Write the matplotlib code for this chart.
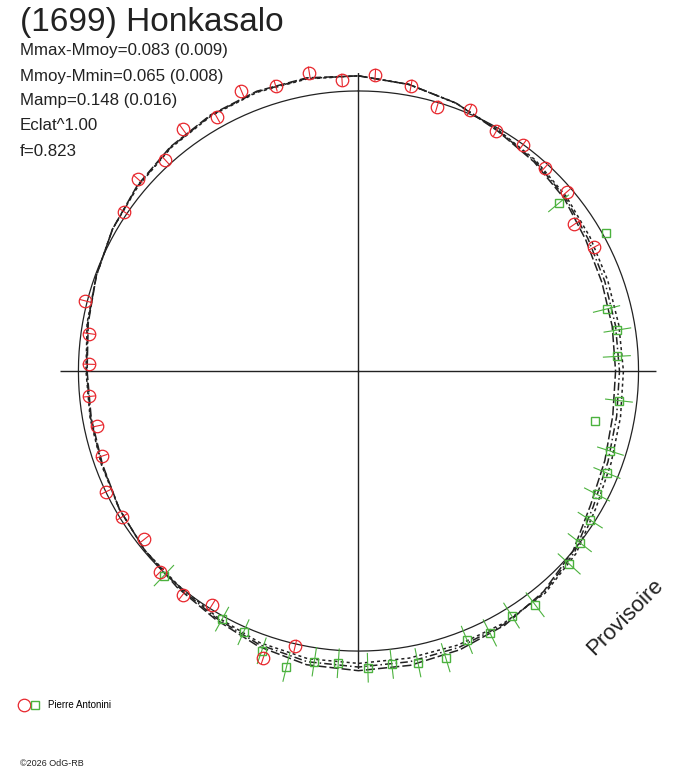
import numpy as np
import matplotlib
matplotlib.use('Agg')
import matplotlib.pyplot as plt
from matplotlib.lines import Line2D
from matplotlib.legend_handler import HandlerTuple

plt.rcParams['font.family'] = ['Liberation Sans', 'DejaVu Sans']

# polar light curve: angle = rotational phase, radius = relative flux (mean circle = 1)
title = "(1699) Honkasalo"
info_lines = ["Mmax-Mmoy=0.083 (0.009)", "Mmoy-Mmin=0.065 (0.008)",
              "Mamp=0.148 (0.016)", "Eclat^1.00", "f=0.823"]
observer = "Pierre Antonini"

# fitted curves sampled every 10 deg of phase
fit_phase = np.arange(0, 360, 10) / 360.0
fit_a = [1.054, 1.039, 1.018, 0.991, 0.975, 0.959, 0.937, 0.925, 0.920, 0.918,
         0.922, 0.936, 0.957, 1.000, 1.028, 1.047, 1.059, 1.067, 1.070, 1.065,
         1.046, 1.023, 1.008, 0.996, 0.986, 0.973, 0.969, 0.969, 0.980, 0.996,
         1.014, 1.031, 1.045, 1.056, 1.063, 1.063]
fit_b = [1.054, 1.039, 1.018, 0.993, 0.979, 0.964, 0.946, 0.936, 0.932, 0.932,
         0.936, 0.948, 0.968, 1.007, 1.032, 1.043, 1.050, 1.054, 1.057, 1.054,
         1.039, 1.018, 1.004, 0.996, 0.986, 0.975, 0.971, 0.971, 0.982, 0.996,
         1.014, 1.029, 1.043, 1.054, 1.061, 1.061]
fit_c = [1.054, 1.039, 1.018, 0.995, 0.983, 0.969, 0.955, 0.947, 0.944, 0.946,
         0.950, 0.960, 0.979, 1.014, 1.036, 1.039, 1.041, 1.041, 1.044, 1.043,
         1.032, 1.013, 1.000, 0.996, 0.986, 0.977, 0.973, 0.973, 0.984, 0.996,
         1.014, 1.027, 1.041, 1.052, 1.059, 1.059]

# session 1 (red circles)
red_phase = [0.974, 0.991, 0.009, 0.937, 0.955, 0.919, 0.900, 0.882, 0.864, 0.845,
             0.029, 0.046, 0.064, 0.083, 0.100, 0.118, 0.137, 0.155, 0.173,
             0.790, 0.772, 0.754, 0.735, 0.717, 0.699, 0.679, 0.662, 0.644,
             0.624, 0.606, 0.589, 0.551, 0.536]
red_flux = [1.080, 1.041, 1.059, 1.084, 1.061, 1.038, 1.069, 1.023, 1.045, 1.011,
            1.036, 0.985, 1.013, 0.988, 0.998, 0.984, 0.981, 0.932, 0.949,
            1.008, 0.970, 0.963, 0.966, 0.953, 0.966, 0.999, 0.991, 0.973,
            1.008, 1.017, 0.985, 1.080, 1.007]
red_err = 0.022

# session 2 (green squares)
green_phase = [0.139, 0.169, 0.211, 0.225, 0.241, 0.268, 0.283, 0.299, 0.312, 0.326,
               0.341, 0.355, 0.368, 0.397, 0.411, 0.426, 0.439, 0.453, 0.468, 0.482,
               0.495, 0.511, 0.524, 0.538, 0.553, 0.566, 0.580, 0.621]
green_flux = [0.932, 1.012, 0.913, 0.936, 0.924, 0.936, 0.863, 0.944, 0.959, 0.959,
              0.984, 1.000, 1.020, 1.046, 1.030, 1.046, 1.035, 1.070, 1.063, 1.053,
              1.060, 1.046, 1.050, 1.087, 1.057, 1.019, 1.011, 1.008]
green_err = [0.048, 0.0, 0.050, 0.050, 0.050, 0.050, 0.0, 0.050, 0.052, 0.052,
             0.053, 0.054, 0.055, 0.055, 0.054, 0.054, 0.054, 0.054, 0.053, 0.053,
             0.053, 0.053, 0.053, 0.055, 0.050, 0.050, 0.050, 0.052]

RED = '#e8262c'
GREEN = '#4cb23e'
INK = '#222222'
rmax = 1.064

fig = plt.figure(figsize=(6.88, 7.68), dpi=100)
ax = fig.add_axes([0.0879, 0.1289, 0.8663, 0.776], projection='polar')
ax.set_theta_zero_location('N')
ax.set_theta_direction(-1)
ax.set_ylim(0, rmax)
ax.axis('off')

# cross through the centre
for a in (0, 0.5, 1.0, 1.5):
    ax.plot([a * np.pi, a * np.pi], [0, rmax], color=INK, lw=1.0)

# mean-flux circle
circ = np.linspace(0, 2 * np.pi, 181)
ax.plot(circ, np.ones_like(circ), color=INK, lw=0.9, clip_on=False)

styles = [(0, (6, 2)), (0, (5, 2, 1, 2)), (0, (2, 2))]
for vals, ls in zip([fit_a, fit_b, fit_c], styles):
    th = np.append(fit_phase, 1.0) * 2 * np.pi
    rr = np.append(vals, vals[0])
    ax.plot(th, rr, color=INK, lw=1.1, ls=ls, clip_on=False)

eb_g = ax.errorbar(np.array(green_phase) * 2 * np.pi, green_flux, yerr=green_err,
                   fmt='s', ms=6, mfc='none', mec=GREEN, mew=1.0,
                   ecolor=GREEN, elinewidth=0.8, capsize=0)
eb_r = ax.errorbar(np.array(red_phase) * 2 * np.pi, red_flux, yerr=red_err,
                   fmt='o', ms=9, mfc='none', mec=RED, mew=0.9,
                   ecolor=RED, elinewidth=0.8, capsize=0)
for eb in (eb_g, eb_r):
    for art in eb.get_children():
        art.set_clip_on(False)

# texts
W, H = 688.0, 768.0
fig.text(20 / W, 1 - 22 / H, title, fontsize=24, color=INK, va='center')
for i, line in enumerate(info_lines):
    fig.text(20 / W, 1 - (51 + 25 * i) / H, line, fontsize=12.2, color=INK,
             va='center')
fig.text(625 / W, 1 - 617 / H, "Provisoire", fontsize=16, color=INK,
         rotation=45, ha='center', va='center')
fig.text(20 / W, 1 - 763 / H, "\u00a92026 OdG-RB", fontsize=6.5, color=INK,
         va='center')

h_red = Line2D([], [], marker='o', ls='none', mfc='none', mec=RED, ms=9, mew=0.9)
h_green = Line2D([], [], marker='s', ls='none', mfc='none', mec=GREEN, ms=6, mew=1.0)
fig.legend([(h_red, h_green)], [observer], loc='center left',
           bbox_to_anchor=(15 / W, 1 - 705 / H), frameon=False, fontsize=7,
           handler_map={tuple: HandlerTuple(ndivide=None, pad=0.3)},
           handlelength=2.0, handletextpad=0.9, borderpad=0)

fig.savefig('out.png', dpi=100)
